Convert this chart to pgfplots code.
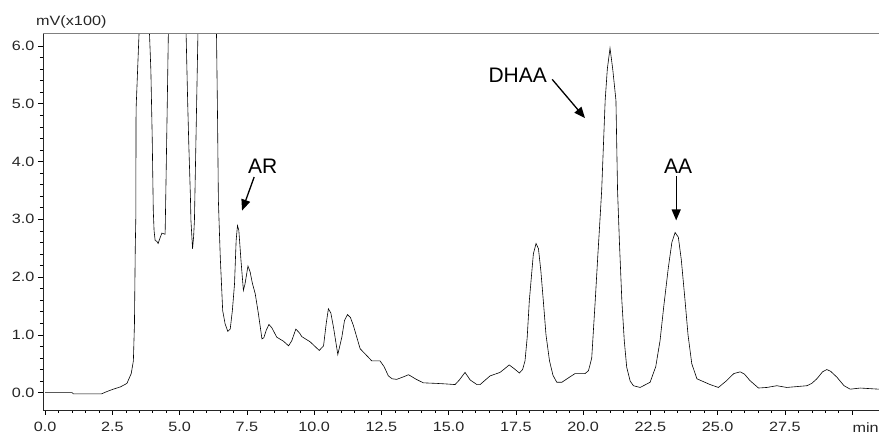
\documentclass[border=0pt]{standalone}
\usepackage{pgfplots}
\pgfplotsset{compat=1.18}
\usepackage{fontspec}
\setmainfont{Liberation Sans}
\usepackage{graphicx}
\usetikzlibrary{arrows.meta}
\newcommand{\sx}[1]{\scalebox{1.2}[1]{#1}}

\begin{document}
\begin{tikzpicture}
\begin{axis}[
    at={(0,0)}, anchor=south west,
    scale only axis, width=836pt, height=376.3pt,
    xmin=-0.08, xmax=31.0, ymin=-0.3, ymax=6.21,
    clip mode=individual,
    axis x line=bottom, axis y line=left,
    axis line style={-, line width=0.6pt, black!85},
    tick align=outside,
    major tick length=5pt, minor tick length=3pt,
    every tick/.style={black, line width=0.5pt},
    xtick={0,2.5,...,30},
    xticklabels={\sx{0.0},\sx{2.5},\sx{5.0},\sx{7.5},\sx{10.0},\sx{12.5},\sx{15.0},\sx{17.5},\sx{20.0},\sx{22.5},\sx{25.0},\sx{27.5},{}},
    extra x ticks={30.5},
    extra x tick labels={\sx{min}},
    extra x tick style={major tick length=0pt, xticklabel style={yshift=-5pt}},
    ytick={0,1,...,6},
    yticklabels={\sx{0.0},\sx{1.0},\sx{2.0},\sx{3.0},\sx{4.0},\sx{5.0},\sx{6.0}},
    minor x tick num=4, minor y tick num=4,
    ticklabel style={font=\fontsize{13.5}{15}\selectfont, black!85},
    xticklabel style={yshift=-4pt},
  ]
  \addplot[black, line width=0.6pt] coordinates {
    (0,0)(1.0,0)(1.05,-0.02)(2.1,-0.02)(2.3,0.02)(2.53,0.06)(2.8,0.1)(3.04,0.16)
    (3.2,0.33)(3.28,0.55)(3.32,1.19)(3.35,2.5)(3.37,3.0)(3.38,4.9)(3.49,6.21)
    (3.52,6.8)(3.68,9)(3.85,6.8)(3.88,6.2)(3.93,5.58)(3.98,4.42)(4.02,3.15)
    (4.05,2.8)(4.09,2.63)(4.15,2.62)(4.2,2.58)(4.25,2.65)(4.34,2.76)(4.46,2.74)
    (4.49,3.56)(4.54,5.0)(4.58,6.21)(4.6,6.8)(4.9,9)(5.2,6.8)(5.24,6.21)
    (5.3,5.0)(5.34,4.3)(5.4,3.4)(5.42,2.98)(5.48,2.49)(5.52,2.7)(5.55,2.98)
    (5.62,4.71)(5.68,6.21)(5.7,6.8)(6.0,9)(6.34,6.8)(6.37,6.21)(6.41,4.71)
    (6.44,3.33)(6.47,2.9)(6.51,2.35)(6.6,1.42)(6.69,1.19)(6.79,1.06)(6.88,1.10)
    (6.96,1.42)(7.04,1.88)(7.1,2.63)(7.15,2.89)(7.2,2.81)(7.28,2.29)(7.37,1.77)
    (7.43,1.88)(7.54,2.19)(7.62,2.09)(7.7,1.9)(7.81,1.71)(7.93,1.36)(8.06,0.93)
    (8.13,0.95)(8.22,1.08)(8.32,1.18)(8.43,1.12)(8.61,0.96)(8.86,0.89)(9.05,0.81)
    (9.17,0.90)(9.32,1.10)(9.46,1.03)(9.54,0.97)(9.85,0.88)(10.19,0.73)(10.35,0.81)
    (10.45,1.2)(10.53,1.45)(10.62,1.38)(10.72,1.13)(10.88,0.66)(11.03,0.96)
    (11.13,1.25)(11.24,1.35)(11.35,1.30)(11.46,1.16)(11.71,0.76)(12.02,0.61)
    (12.14,0.55)(12.45,0.55)(12.6,0.45)(12.76,0.29)(12.9,0.24)(13.07,0.23)
    (13.3,0.27)(13.51,0.31)(13.8,0.23)(14.06,0.17)(14.56,0.16)(14.93,0.15)
    (15.24,0.14)(15.4,0.22)(15.61,0.35)(15.8,0.22)(16.05,0.14)(16.17,0.14)
    (16.54,0.29)(16.91,0.35)(17.1,0.42)(17.25,0.48)(17.45,0.41)(17.63,0.34)
    (17.75,0.4)(17.84,0.55)(17.92,0.95)(18.0,1.59)(18.15,2.40)(18.25,2.58)
    (18.34,2.49)(18.43,2.1)(18.52,1.59)(18.62,1.0)(18.75,0.55)(18.88,0.3)
    (19.02,0.18)(19.21,0.18)(19.5,0.27)(19.7,0.33)(20.07,0.33)(20.2,0.38)
    (20.32,0.6)(20.45,1.59)(20.55,2.4)(20.61,2.86)(20.69,3.5)(20.82,5.06)
    (20.9,5.6)(21.0,5.96)(21.1,5.6)(21.22,5.06)(21.28,3.5)(21.35,2.6)(21.44,1.59)
    (21.53,0.9)(21.62,0.44)(21.75,0.2)(21.87,0.12)(22.12,0.09)(22.49,0.18)
    (22.7,0.45)(22.86,0.90)(23.0,1.5)(23.17,2.17)(23.3,2.6)(23.42,2.77)
    (23.54,2.69)(23.65,2.3)(23.79,1.59)(23.9,1.0)(24.04,0.50)(24.23,0.24)
    (24.72,0.14)(25.03,0.09)(25.34,0.21)(25.6,0.33)(25.84,0.36)(26.0,0.32)
    (26.2,0.21)(26.52,0.08)(26.83,0.09)(27.2,0.12)(27.57,0.09)(28.32,0.12)
    (28.5,0.16)(28.69,0.24)(28.9,0.36)(29.06,0.40)(29.2,0.37)(29.43,0.27)
    (29.7,0.12)(29.93,0.06)(30.3,0.08)(31.0,0.06)
  };
  % frame top and axis caption
  \draw[gray, line width=0.9pt] (rel axis cs:0,1) -- (rel axis cs:1,1);
  \node[anchor=base west, inner sep=0pt, xshift=-7pt, yshift=8.5pt,
        font=\fontsize{13.5}{15}\selectfont, black!85]
        at (rel axis cs:0,1) {\sx{mV(x100)}};
  % peak labels
  \tikzset{lbl/.style={anchor=base, inner sep=0pt, font=\fontsize{21}{24}\selectfont},
           arr/.style={-{Triangle[length=11pt,width=9pt]}, line width=1.3pt}}
  \node[lbl] at (axis cs:8.09,3.8) {AR};
  \draw[arr] (axis cs:7.77,3.73) -- (axis cs:7.32,3.15);
  \node[lbl, anchor=base east] at (axis cs:18.66,5.36) {DHAA};
  \draw[arr] (axis cs:18.85,5.42) -- (axis cs:20.07,4.75);
  \node[lbl] at (axis cs:23.53,3.8) {AA};
  \draw[arr] (axis cs:23.46,3.74) -- (axis cs:23.46,2.98);
\end{axis}
\pgfresetboundingbox
\path[use as bounding box] (-43pt,-26pt) rectangle (836pt,410pt);
\end{tikzpicture}
\end{document}
